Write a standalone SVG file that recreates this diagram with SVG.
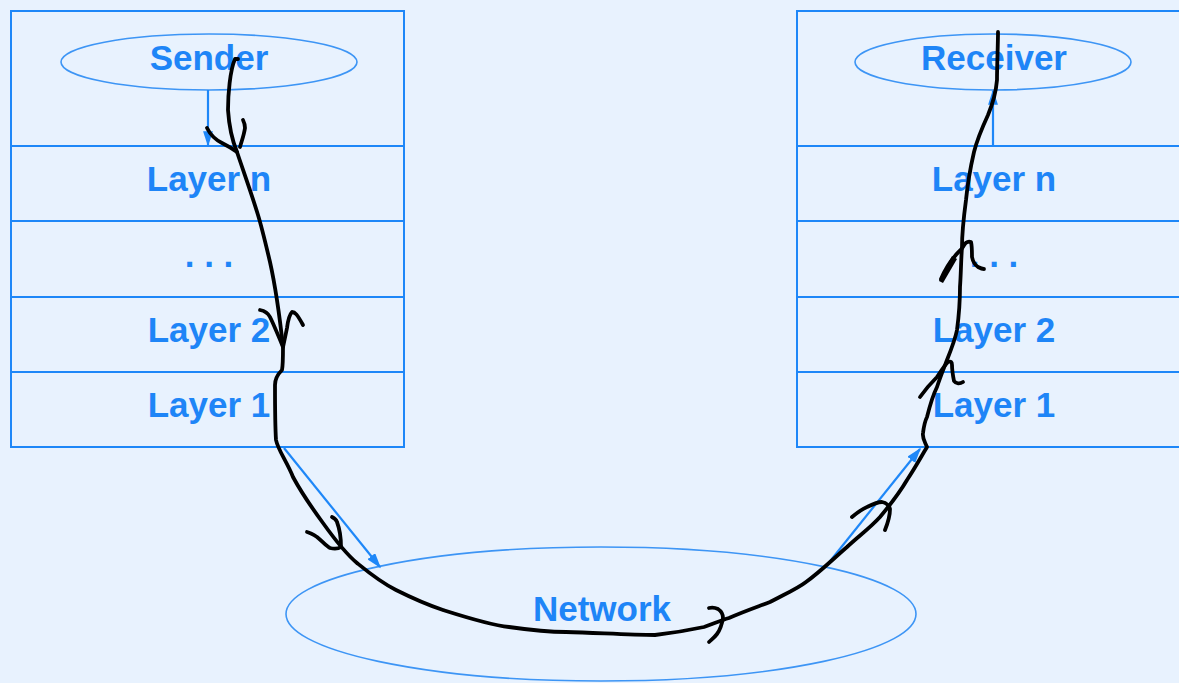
<svg xmlns="http://www.w3.org/2000/svg" width="1179" height="683" viewBox="0 0 1179 683">
<defs>
<marker id="ah" viewBox="0 0 10 10" refX="9" refY="5" markerWidth="7" markerHeight="4.5" orient="auto" markerUnits="strokeWidth" preserveAspectRatio="none">
<path d="M0,0 L10,5 L0,10 z" fill="#1e87f8"/>
</marker>
<style>
.box{fill:none;stroke:#1e87f8;stroke-width:2}
.ell{fill:none;stroke:#3d95f5;stroke-width:1.6}
.lbl{font-family:"Liberation Sans",Arial,sans-serif;font-weight:bold;font-size:35px;fill:#1e85f7;text-anchor:middle}
.arr{fill:none;stroke:#1e87f8;stroke-width:2.2;marker-end:url(#ah)}
.ink{fill:none;stroke:#000;stroke-width:3.8;stroke-linecap:round;stroke-linejoin:round}
</style>
</defs>
<rect width="1179" height="683" fill="#e8f2fe"/>
<g id="sender-stack">
<rect class="box" x="11" y="11" width="393" height="436"/>
<line class="box" x1="11" y1="146" x2="404" y2="146"/>
<line class="box" x1="11" y1="221" x2="404" y2="221"/>
<line class="box" x1="11" y1="297" x2="404" y2="297"/>
<line class="box" x1="11" y1="372" x2="404" y2="372"/>
<ellipse class="ell" cx="209" cy="62" rx="148" ry="28"/>
<text class="lbl" x="209" y="70">Sender</text>
<text class="lbl" x="209" y="191">Layer n</text>
<text class="lbl" x="209" y="267">. . .</text>
<text class="lbl" x="209" y="342">Layer 2</text>
<text class="lbl" x="209" y="417">Layer 1</text>
</g>
<g id="receiver-stack">
<rect class="box" x="797" y="11" width="400" height="436"/>
<line class="box" x1="797" y1="146" x2="1197" y2="146"/>
<line class="box" x1="797" y1="221" x2="1197" y2="221"/>
<line class="box" x1="797" y1="297" x2="1197" y2="297"/>
<line class="box" x1="797" y1="372" x2="1197" y2="372"/>
<ellipse class="ell" cx="993" cy="62" rx="138" ry="28"/>
<text class="lbl" x="994" y="70">Receiver</text>
<text class="lbl" x="994" y="191">Layer n</text>
<text class="lbl" x="994" y="267">. . .</text>
<text class="lbl" x="994" y="342">Layer 2</text>
<text class="lbl" x="994" y="417">Layer 1</text>
</g>
<g id="network">
<ellipse class="ell" cx="601" cy="614" rx="315" ry="67"/>
<text class="lbl" x="602" y="621">Network</text>
</g>
<g id="connectors">
<line class="arr" x1="208" y1="90" x2="208" y2="145"/>
<line class="arr" x1="993" y1="146" x2="993" y2="91"/>
<line class="arr" x1="284" y1="448" x2="380" y2="567"/>
<line class="arr" x1="827" y1="565" x2="920" y2="449"/>
</g>
<g id="ink-path">
<path class="ink" d="M238,59 L235,59 C230,70 228,95 228,110 C229,125 232,140 237,152 C243,170 252,195 258,215 C262,228 266,245 270,262 C274,280 279,310 283,347 C283,358 283,365 282,370 C279,373 275,377 275,385 C275,400 275,425 276,440 C278,450 287,462 293,477 C300,490 312,508 323,523 C333,537 345,553 357,563 C368,572 380,582 396,590 C410,597 428,605 443,610 C465,617 490,625 509,627 C530,630 548,632 566,632 C600,633 630,635 655,635 C672,633 690,630 704,627 C715,623 722,620 729,618 C745,611 757,607 770,602 C785,594 797,589 806,582 C820,572 832,560 847,547 C860,535 870,528 880,517 C890,505 900,492 907,480 C915,468 921,457 927,447 C925,442 922,438 923,433 C924,425 925,421 927,417 C930,405 933,395 937,387 C941,375 944,368 947,360 C951,350 955,340 957,330 C959,315 960,300 960,287 C961,273 961,260 962,247 C962,235 964,215 966,200 C968,180 971,165 974,152 C977,140 982,128 988,115 C993,103 996,92 997,80 C997,65 998,45 998,32"/>
<path class="ink" d="M207,128 C210,134 214,139 222,143 C228,146 233,149 237,152"/>
<path class="ink" d="M240,147 C242,140 244,135 245,128 C245,125 244,122 243,120"/>
<path class="ink" d="M260,310 C265,311 268,313 270,317 C273,323 276,330 283,347 C285,338 286,333 287,328 C288,320 290,314 292,312 C295,312 297,314 303,325"/>
<path class="ink" d="M307,532 C311,533 314,535 317,537 C322,541 326,546 330,548 C334,549 338,549 341,547 C341,540 340,530 337,522 C336,519 334,518 332,517"/>
<path class="ink" d="M709,608 C713,607 716,608 718,609 C721,611 723,614 723,618 C722,624 720,630 717,634 C714,638 711,640 709,642"/>
<path class="ink" d="M852,517 C858,512 862,509 867,507 C873,504 878,502 882,502 C887,503 889,505 890,509 C890,515 889,520 885,530"/>
<path class="ink" d="M920,397 C925,390 931,383 937,377 C941,371 944,366 948,362 C951,361 952,362 952,365 C952,370 953,376 954,381 C956,384 960,384 963,382"/>
<path class="ink" d="M941,279 C944,272 948,264 955,256 C958,252 961,250 963,247 C965,243 968,241 971,242 C972,246 972,252 972,257 C973,262 975,265 978,267 C980,268 982,269 984,269"/>
<path d="M939,281 L952,256 L957,259 L943,283 z" fill="#000"/>
</g>
</svg>
